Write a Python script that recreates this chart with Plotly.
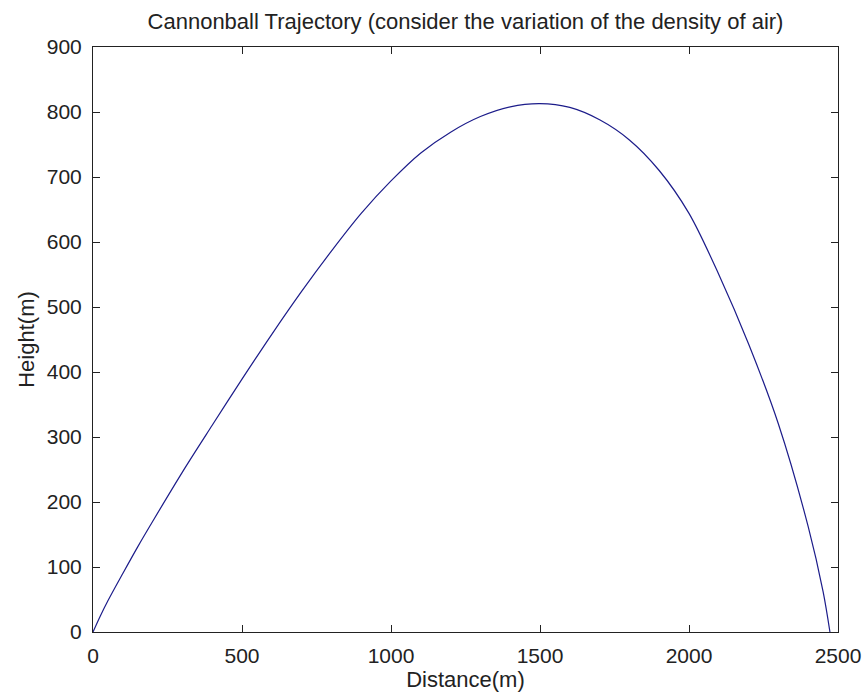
import plotly.graph_objects as go

# Trajectory
distance_m = [0, 25, 50, 100, 150, 200, 300, 400, 500, 600, 700, 800, 900,
              1000, 1100, 1200, 1300, 1400, 1500, 1600, 1700, 1800, 1900,
              2000, 2100, 2200, 2300, 2400, 2450, 2473]
height_m = [0, 25, 48, 90, 131, 170, 246, 318, 389, 458, 524, 586, 644,
            694, 737, 769, 793, 808, 813, 807, 788, 757, 710,
            644, 550, 443, 320, 162, 62, 0]

x_ticks = [0, 500, 1000, 1500, 2000, 2500]
y_ticks = [0, 100, 200, 300, 400, 500, 600, 700, 800, 900]

title_text = "Cannonball Trajectory (consider the variation of the density of air)"
x_label = "Distance(m)"
y_label = "Height(m)"

FONT = "Liberation Sans, Arial, sans-serif"
INK = "#222222"
SIZE = 22

fig = go.Figure()
fig.add_trace(go.Scatter(
    x=distance_m, y=height_m, mode="lines",
    line=dict(color="#1c1c8a", width=1.2, shape="spline", smoothing=0.9),
    showlegend=False, hoverinfo="x+y",
))

axis_common = dict(
    showline=True, linecolor=INK, linewidth=1, mirror="ticks",
    ticks="inside", ticklen=7, tickwidth=1, tickcolor=INK,
    showgrid=False, zeroline=False, automargin=False,
    tickfont=dict(family=FONT, size=SIZE - 1, color=INK),
)

fig.update_layout(
    width=866, height=694,
    margin=dict(l=93, r=28, t=47, b=62),
    paper_bgcolor="white", plot_bgcolor="white",
    font=dict(family=FONT, size=SIZE, color=INK),
    title=dict(text=title_text, x=0.5, xref="paper", xanchor="center",
               y=1 - 21 / 694, yref="container", yanchor="middle",
               font=dict(family=FONT, size=SIZE, color=INK)),
    xaxis=dict(range=[0, 2500], tickvals=x_ticks,
               ticktext=[str(v) for v in x_ticks],
               ticklabelstandoff=5,
               title=dict(text=x_label, standoff=2,
                          font=dict(family=FONT, size=SIZE, color=INK)),
               **axis_common),
    yaxis=dict(range=[0, 900], tickvals=y_ticks,
               ticktext=[str(v) for v in y_ticks],
               ticklabelstandoff=6,
               title=dict(text=y_label, standoff=6,
                          font=dict(family=FONT, size=SIZE, color=INK)),
               **axis_common),
)

fig.write_html(
    "out.html",
    config={"displayModeBar": False},
    post_script="document.body.style.margin='0';document.body.style.overflow='hidden';",
)
